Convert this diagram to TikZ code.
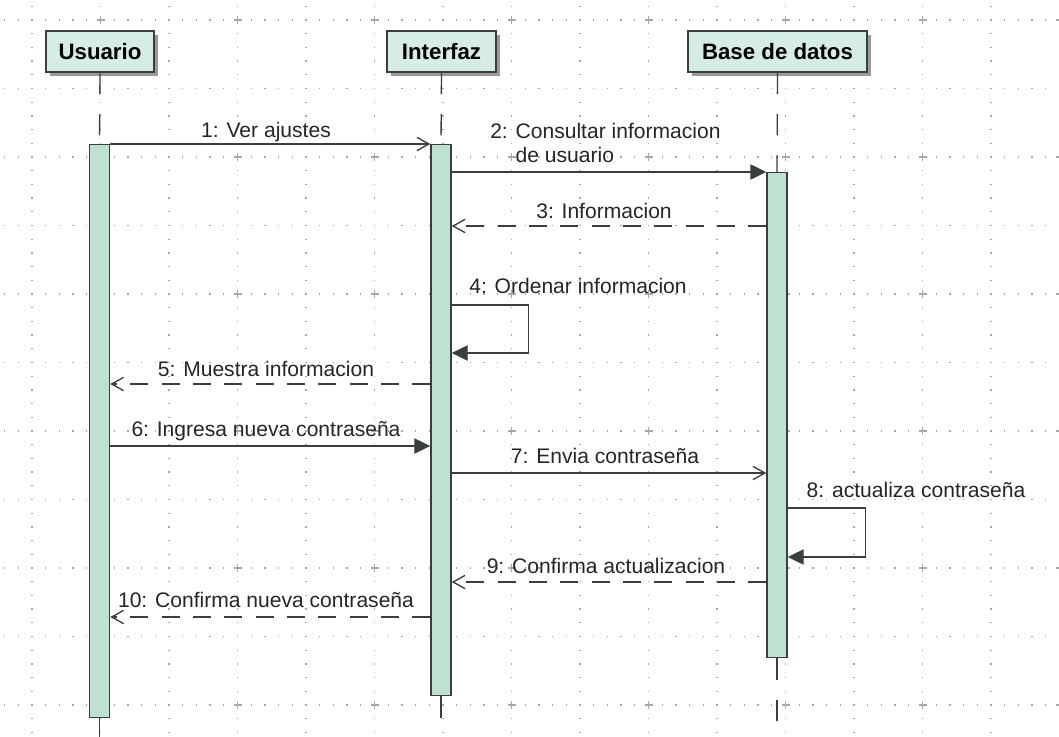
\documentclass[tikz,border=0pt]{standalone}
\usepackage{fontspec}
\setmainfont{Liberation Sans}
\usetikzlibrary{arrows.meta,shadows,calc}
\definecolor{hdrfill}{HTML}{D6EDE3}
\definecolor{actfill}{HTML}{BEE2D1}
\definecolor{lncol}{HTML}{3A3F3C}
\definecolor{gridcol}{HTML}{A8A8A8}
\begin{document}
\begin{tikzpicture}[x=0.75pt,y=-0.75pt,
  hdr/.style={draw=lncol, line width=1.1pt, fill=hdrfill, minimum height=30.75pt, font=\bfseries\fontsize{16.7}{18}\selectfont, inner sep=0pt, drop shadow={shadow xshift=3pt, shadow yshift=-3pt, fill=black!40, opacity=1}},
  act/.style={draw=lncol, line width=1.1pt, fill=actfill, minimum width=15pt, inner sep=0pt, anchor=north},
  life/.style={draw=lncol, line width=1pt, dash pattern=on 16pt off 15pt},
  msg/.style={draw=lncol, line width=1pt},
  ret/.style={msg, dash pattern=on 13.5pt off 10pt},
  opena/.style={-{Straight Barb[length=9pt,width=10pt]}},
  filla/.style={-{Triangle[length=12pt,width=11.5pt]}},
  lbl/.style={font=\fontsize{15.8}{18}\selectfont, inner sep=0pt, anchor=base, text=black!85}
]
\useasboundingbox (0,0) rectangle (1059,736);
\fill[white] (0,0) rectangle (1059,736);
% grid
\begin{scope}
\clip (0,0) rectangle (1059,736);
\foreach \k in {0,...,16} {
  \pgfmathsetmacro\xx{32+68.5*(\k-1)}
  \draw[gridcol, line width=1.3pt, dash pattern=on 1pt off 9.275pt, dash phase=0.5pt] (\xx,-117) -- (\xx,760);
}
\foreach \k in {0,...,11} {
  \pgfmathsetmacro\yy{20+68.5*(\k-1)}
  \draw[gridcol, line width=1.3pt, dash pattern=on 1pt off 9.275pt, dash phase=0.5pt] (-36.5,\yy) -- (1100,\yy);
}
\foreach \i in {0,...,8} {
  \foreach \j in {0,...,5} {
    \pgfmathsetmacro\cx{-36.5+137*\i}
    \pgfmathsetmacro\cy{20+137*\j}
    \draw[gridcol, line width=1pt] (\cx-4,\cy) -- (\cx+4,\cy) (\cx,\cy-4) -- (\cx,\cy+4);
  }
}
\end{scope}
% headers
\node[hdr, minimum width=81pt] (uh) at (100,51.5) {Usuario};
\node[hdr, minimum width=81.75pt] (ih) at (441.5,51.5) {Interfaz};
\node[hdr, minimum width=134.25pt] (bh) at (777.5,51.5) {Base de datos};
% activation bars
\node[act, minimum height={573*0.75pt}] (ua) at (99.5,144) {};
\node[act, minimum height={551*0.75pt}] (ia) at (441,144) {};
\node[act, minimum height={485*0.75pt}] (ba) at (777,172) {};
% lifelines
\coordinate (uend) at (99.5,740);
\coordinate (iend) at (441,740);
\coordinate (bend) at (777,740);
\draw[life] (uh.south) -- (ua.north);
\draw[life] (ua.south) -- (uend);
\draw[life] (ih.south) -- (ia.north);
\draw[life] (ia.south) -- (iend);
\draw[life] (bh.south) -- (ba.north);
\draw[life] (ba.south) -- (bend);
% messages
\draw[msg,opena] (ua.north east) -- (ia.north west);
\node[lbl] (l1) at (266,137) {1: Ver ajustes};
\draw[msg,filla] (ia.east |- ba.north) -- (ba.north west);
\node[lbl, anchor=base west] (l2a) at (490,138) {2: Consultar informacion};
\node[lbl, anchor=base west] (l2b) at (490,162) {\hphantom{2: }de usuario};
\draw[ret,opena] (ba.west |- 0,226) -- (ia.east |- 0,226);
\node[lbl] (l3) at (604,218) {3: Informacion};
\draw[msg,filla] (ia.east |- 0,305) -- ++(77,0) -- ++(0,48) -- (ia.east |- 0,353);
\node[lbl] (l4) at (578,293) {4: Ordenar informacion};
\draw[ret,opena] (ia.west |- 0,384) -- (ua.east |- 0,384);
\node[lbl] (l5) at (266,376) {5: Muestra informacion};
\draw[msg,filla] (ua.east |- 0,446) -- (ia.west |- 0,446);
\node[lbl] (l6) at (266,436) {6: Ingresa nueva contraseña};
\draw[msg,opena] (ia.east |- 0,473) -- (ba.west |- 0,473);
\node[lbl] (l7) at (605,463) {7: Envia contraseña};
\draw[msg,filla] (ba.east |- 0,508) -- ++(78,0) -- ++(0,49) -- (ba.east |- 0,557);
\node[lbl] (l8) at (916,497) {8: actualiza contraseña};
\draw[ret,opena] (ba.west |- 0,582) -- (ia.east |- 0,582);
\node[lbl] (l9) at (606,573) {9: Confirma actualizacion};
\draw[ret,opena] (ia.west |- 0,617) -- (ua.east |- 0,617);
\node[lbl] (l10) at (266,607) {10: Confirma nueva contraseña};
\end{tikzpicture}
\end{document}
